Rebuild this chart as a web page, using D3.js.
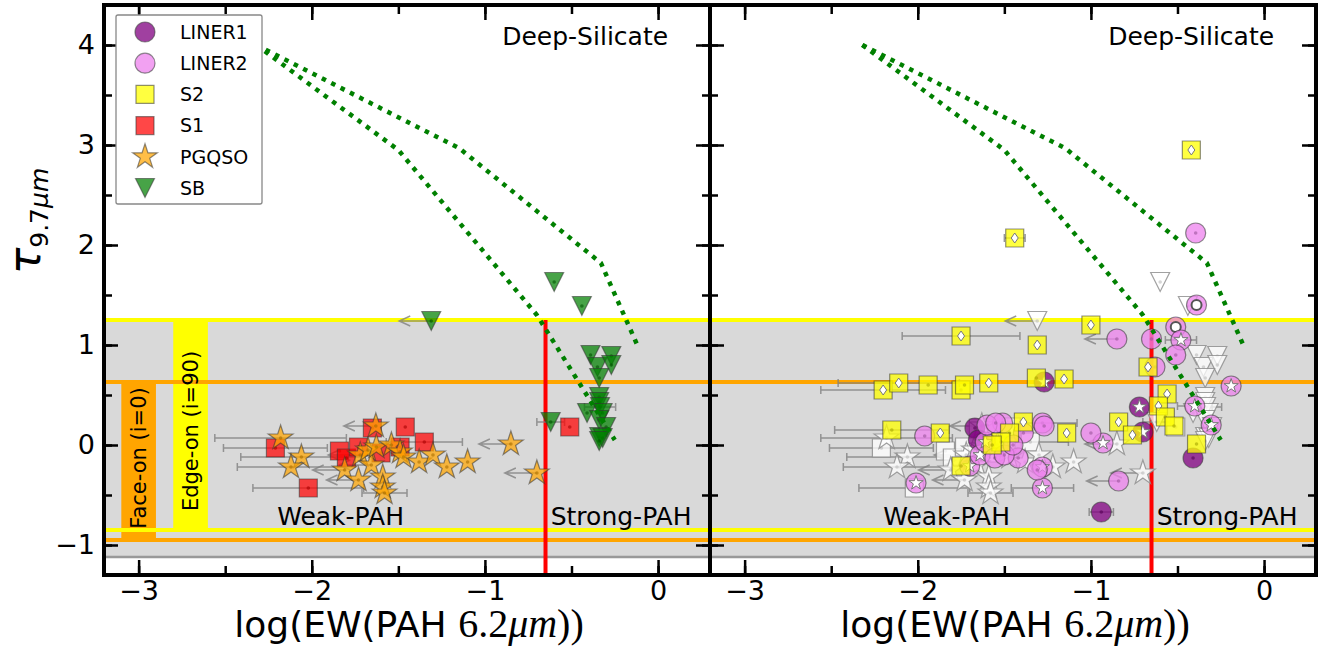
<!DOCTYPE html>
<html>
<head>
<meta charset="utf-8">
<script src="https://cdn.jsdelivr.net/npm/d3@7"></script>
<style>
body { margin: 0; background: #fff; }
text { font-family: "DejaVu Sans", sans-serif; }
</style>
</head>
<body>
<div class="chart"></div>
<script>
// points: [log EW(PAH 6.2um), tau 9.7um, x error, upper limit, inner marker]
const s1 = [
  [-2.21, -0.03, 0.30, 0], [-2.02, -0.43, 0.32, 0], [-1.84, -0.06, 0, 0], [-1.80, -0.13, 0, 0],
  [-1.73, -0.02, 0, 0], [-1.65, 0.17, 0, 0], [-1.60, -0.08, 0, 0], [-1.49, -0.02, 0, 0],
  [-1.46, 0.18, 0, 0], [-1.35, 0.03, 0.22, 0], [-0.51, 0.18, 0, 0]
];
const pgqso = [
  [-2.18, 0.07, 0.38, 0], [-2.06, -0.12, 0.35, 0], [-2.12, -0.22, 0.31, 0], [-1.81, -0.25, 0, 1],
  [-1.73, -0.35, 0, 1], [-1.72, -0.10, 0, 1], [-1.675, -0.05, 0, 0], [-1.656, -0.20, 0, 1],
  [-1.63, 0.19, 0, 1], [-1.627, -0.02, 0, 0], [-1.59, -0.32, 0, 0], [-1.59, -0.42, 0, 0],
  [-1.58, -0.48, 0.13, 0], [-1.54, 0.00, 0, 0], [-1.49, -0.07, 0, 0], [-1.47, -0.12, 0, 0],
  [-1.38, -0.17, 0, 0], [-1.30, -0.10, 0, 0], [-1.22, -0.22, 0, 0], [-1.10, -0.17, 0, 0],
  [-0.85, 0.01, 0, 1], [-0.70, -0.28, 0, 1]
];
const sb = [
  [-1.31, 1.24, 0, 1], [-0.60, 1.63, 0, 0], [-0.44, 1.39, 0, 0], [-0.62, 0.23, 0.08, 0],
  [-0.39, 0.90, 0, 0], [-0.27, 0.89, 0, 0], [-0.35, 0.78, 0, 0], [-0.27, 0.80, 0, 0],
  [-0.34, 0.67, 0, 0], [-0.34, 0.48, 0, 0], [-0.34, 0.43, 0, 0], [-0.335, 0.38, 0.09, 0],
  [-0.41, 0.32, 0, 0], [-0.32, 0.32, 0, 0], [-0.34, 0.25, 0, 0], [-0.30, 0.18, 0, 0],
  [-0.34, 0.08, 0, 0], [-0.32, 0.07, 0, 0], [-0.34, 0.04, 0, 0]
];
const liner1 = [
  [-1.27, 0.63, 0, 0, 's'], [-1.67, 0.17, 0, 0, ''], [-1.65, 0.05, 0, 0, ''], [-0.72, 0.38, 0, 0, 's'],
  [-0.70, 0.13, 0, 0, 's'], [-0.94, -0.67, 0.07, 0, ''], [-0.41, -0.13, 0, 0, '']
];
const liner2 = [
  [-0.395, 2.12, 0, 0, ''], [-0.39, 1.40, 0, 0, 'o'], [-0.51, 1.18, 0, 0, 'o'], [-0.48, 1.05, 0.09, 0, 's'],
  [-0.51, 0.90, 0, 0, ''], [-0.65, 1.06, 0, 0, ''], [-0.85, 1.06, 0, 1, ''], [-0.63, 0.78, 0, 0, ''],
  [-0.19, 0.59, 0, 0, 's'], [-0.40, 0.39, 0.10, 0, 's'], [-0.305, 0.20, 0, 0, 's'], [-0.93, 0.02, 0, 0, 's'],
  [-1.00, 0.12, 0, 0, ''], [-0.84, -0.36, 0, 1, ''], [-1.28, -0.22, 0, 0, 's'], [-1.28, -0.43, 0.18, 0, 's'],
  [-1.42, -0.13, 0, 0, ''], [-1.28, 0.22, 0.20, 0, ''], [-1.27, 0.19, 0, 0, ''], [-1.31, -0.25, 0, 0, ''],
  [-1.39, 0.12, 0, 0, ''], [-1.51, 0.22, 0, 0, ''], [-1.96, 0.09, 0, 0, ''], [-2.01, -0.38, 0, 0, 's'],
  [-1.70, -0.21, 0, 0, 's'], [-1.64, -0.10, 0, 0, 's'], [-1.61, 0.03, 0, 0, 's'], [-1.60, 0.20, 0, 0, ''],
  [-1.55, 0.22, 0, 0, ''], [-1.555, -0.13, 0, 0, ''], [-1.50, -0.10, 0, 0, ''], [-1.45, 0.00, 0, 0, '']
];
const s2 = [
  [-0.42, 2.95, 0, 0, 'd'], [-1.44, 2.07, 0.06, 0, 'd'], [-1.00, 1.20, 0, 0, 'd'], [-1.75, 1.09, 0.34, 0, 'd'],
  [-1.31, 1.00, 0, 0, 'd'], [-0.67, 0.78, 0, 0, 'd'], [-1.315, 0.67, 0, 0, ''], [-1.155, 0.66, 0, 0, 'd'],
  [-2.20, 0.55, 0.36, 0, 'd'], [-2.11, 0.62, 0.35, 0, 'd'], [-1.94, 0.60, 0, 0, ''], [-1.75, 0.55, 0, 0, ''],
  [-1.73, 0.60, 0, 0, ''], [-1.59, 0.62, 0, 0, 'd'], [-0.56, 0.51, 0, 0, 'd'], [-0.61, 0.39, 0, 0, 'd'],
  [-0.57, 0.28, 0, 0, ''], [-0.52, 0.19, 0, 0, ''], [-0.84, 0.23, 0, 0, 'd'], [-0.76, 0.10, 0, 0, 'd'],
  [-1.14, 0.12, 0, 0, 'd'], [-1.39, 0.23, 0, 0, 'd'], [-1.47, 0.12, 0, 0, ''], [-1.52, 0.03, 0, 0, ''],
  [-1.57, 0.00, 0, 0, ''], [-0.39, 0.01, 0, 0, ''], [-2.15, 0.15, 0.33, 0, ''], [-1.87, 0.12, 0, 0, 'd'],
  [-1.75, -0.21, 0, 0, '']
];
// model tracks (dotted green)
const trackA = [[-2.32, 4.0], [-1.5, 2.95], [-0.7, 1.3], [-0.25, 0.05]];
const trackB = [[-2.32, 4.0], [-1.15, 2.97], [-0.33, 1.82], [-0.12, 1.0]];
// reference levels
const levelTau = [1.25, 0.63, -0.85, -0.95];
const levelColor = ["#ffff00", "#ffa500", "#ffff00", "#ffa500"];
const grayBand = [-1.12, 1.25];
const faceOn = [-3.1, -2.9, -0.95, 0.63];
const edgeOn = [-2.8, -2.6, -0.85, 1.25];
const pahCut = -0.65;
const xDomain = [-3.2, 0.3];
const yDomain = [-1.3, 4.4];
const xTicks = [-3, -2, -1, 0];
const xMinor = [-3, -2.5, -2, -1.5, -1, -0.5, 0];
const yTicks = [-1, 0, 1, 2, 3, 4];
const yMinor = [-1, -0.5, 0, 0.5, 1, 1.5, 2, 2.5, 3, 3.5, 4];
const legendNames = ["LINER1", "LINER2", "S2", "S1", "PGQSO", "SB"];

var width = 1325, height = 650;
var plotTop = 5, plotBottom = 575;
var panels = [[104, 710], [710, 1316]];

const svg = d3.select(".chart").append("svg")
    .attr("width", width)
    .attr("height", height);

const yScale = d3.scaleLinear().domain(yDomain).range([plotBottom, plotTop]);

function starPath(R) {
  let pts = [];
  for (let i = 0; i < 10; i++) {
    const r = i % 2 ? R * 0.382 : R;
    const a = -Math.PI / 2 + i * Math.PI / 5;
    pts.push([r * Math.cos(a), r * Math.sin(a)]);
  }
  return "M" + pts.map(p => p[0].toFixed(2) + "," + p[1].toFixed(2)).join("L") + "Z";
}
const shapes = {
  circle: "M10,0A10,10 0 1,1 -10,0A10,10 0 1,1 10,0Z",
  square: "M-9,-9H9V9H-9Z",
  star: starPath(13),
  tri: "M-9.5,-9.5H9.5L0,9.5Z"
};
const inner = {
  s: starPath(7.5),
  d: "M0,-5L3.5,0L0,5L-3.5,0Z",
  o: "M5,0A5,5 0 1,1 -5,0A5,5 0 1,1 5,0Z"
};

const styles = {
  LINER1: {shape: "circle", fill: "purple", op: 0.75},
  LINER2: {shape: "circle", fill: "violet", op: 0.75},
  S2: {shape: "square", fill: "yellow", op: 0.75},
  S1: {shape: "square", fill: "red", op: 0.72},
  PGQSO: {shape: "star", fill: "orange", op: 0.72},
  SB: {shape: "tri", fill: "green", op: 0.72}
};

function drawErrors(g, data, xScale) {
  data.forEach(d => {
    const cx = xScale(d[0]), cy = yScale(d[1]);
    if (d[2] > 0) {
      const xa = xScale(d[0] - d[2]), xb = xScale(d[0] + d[2]);
      g.append("path")
        .attr("d", `M${xa},${cy}H${xb}M${xa},${cy - 4}V${cy + 4}M${xb},${cy - 4}V${cy + 4}`)
        .attr("stroke", "#808080").attr("stroke-width", 1.5).attr("fill", "none").attr("opacity", 0.8);
    }
    if (d[3]) {
      const tip = cx - 32;
      g.append("path")
        .attr("d", `M${cx},${cy}H${tip}M${tip + 11},${cy - 5}L${tip},${cy}L${tip + 11},${cy + 5}`)
        .attr("stroke", "#808080").attr("stroke-width", 1.5).attr("fill", "none").attr("opacity", 0.8);
    }
  });
}

function drawMarkers(g, data, name, xScale, white) {
  const st = styles[name];
  const grp = g.append("g");
  data.forEach(d => {
    const cx = xScale(d[0]), cy = yScale(d[1]);
    const m = grp.append("g").attr("transform", `translate(${cx},${cy})`);
    m.append("path").attr("d", shapes[st.shape])
      .attr("fill", white ? "white" : st.fill)
      .attr("fill-opacity", white ? 0.75 : st.op)
      .attr("stroke", white ? "#8a8a8a" : "#333")
      .attr("stroke-opacity", white ? 0.8 : 0.55)
      .attr("stroke-width", 1.2);
    m.append("circle").attr("r", 1.8)
      .attr("fill", white ? "#bbb" : d3.color(st.fill).darker(1.2))
      .attr("opacity", 0.6);
    if (d[4]) {
      m.append("path").attr("d", inner[d[4]])
        .attr("fill", "white")
        .attr("stroke", d[4] === "o" ? "#555" : "#777")
        .attr("stroke-width", d[4] === "o" ? 2 : 1);
    }
  });
}

panels.forEach((px, i) => {
  const xScale = d3.scaleLinear().domain(xDomain).range(px);
  const g = svg.append("g");
  const clipId = "clip" + i;
  svg.append("clipPath").attr("id", clipId).append("rect")
    .attr("x", px[0]).attr("y", plotTop).attr("width", px[1] - px[0]).attr("height", plotBottom - plotTop);
  const plot = g.append("g").attr("clip-path", `url(#${clipId})`);

  // gray band
  plot.append("rect")
    .attr("x", px[0]).attr("width", px[1] - px[0])
    .attr("y", yScale(grayBand[1])).attr("height", yScale(grayBand[0]) - yScale(grayBand[1]))
    .attr("fill", "#d9d9d9");
  plot.append("line")
    .attr("x1", px[0]).attr("x2", px[1])
    .attr("y1", yScale(grayBand[0])).attr("y2", yScale(grayBand[0]))
    .attr("stroke", "#999").attr("stroke-width", 2.5);

  if (i === 0) {
    [[faceOn, "#ffa500"], [edgeOn, "#ffff00"]].forEach(r => {
      const b = r[0];
      plot.append("rect")
        .attr("x", xScale(b[0])).attr("width", xScale(b[1]) - xScale(b[0]))
        .attr("y", yScale(b[3])).attr("height", yScale(b[2]) - yScale(b[3]))
        .attr("fill", r[1]);
    });
  }

  levelTau.forEach((t, k) => {
    plot.append("line")
      .attr("x1", px[0]).attr("x2", px[1])
      .attr("y1", yScale(t)).attr("y2", yScale(t))
      .attr("stroke", levelColor[k]).attr("stroke-width", 4);
  });

  if (i === 0) {
    plot.append("text")
      .attr("transform", `translate(${xScale((faceOn[0] + faceOn[1]) / 2)},458) rotate(-90)`)
      .attr("text-anchor", "middle").attr("dominant-baseline", "central")
      .attr("font-size", 21).text("Face-on (i=0)");
    plot.append("text")
      .attr("transform", `translate(${xScale((edgeOn[0] + edgeOn[1]) / 2)},431) rotate(-90)`)
      .attr("text-anchor", "middle").attr("dominant-baseline", "central")
      .attr("font-size", 21).text("Edge-on (i=90)");
  }

  // PAH cut
  plot.append("line")
    .attr("x1", xScale(pahCut)).attr("x2", xScale(pahCut))
    .attr("y1", yScale(levelTau[0])).attr("y2", plotBottom)
    .attr("stroke", "red").attr("stroke-width", 4);

  plot.append("text").attr("x", xScale(-0.9)).attr("y", yScale(4.0))
    .attr("font-size", 25).text("Deep-Silicate");
  plot.append("text").attr("x", xScale(-2.2)).attr("y", yScale(-0.8))
    .attr("font-size", 25).text("Weak-PAH");
  plot.append("text").attr("x", xScale(-0.62)).attr("y", yScale(-0.8))
    .attr("font-size", 25).text("Strong-PAH");

  if (i === 0) {
    drawErrors(plot, s1, xScale);
    drawErrors(plot, pgqso, xScale);
    drawErrors(plot, sb, xScale);
    drawMarkers(plot, s1, "S1", xScale, false);
    drawMarkers(plot, pgqso, "PGQSO", xScale, false);
    drawMarkers(plot, sb, "SB", xScale, false);
  } else {
    [s1, pgqso, sb, liner1, liner2, s2].forEach(d => drawErrors(plot, d, xScale));
    drawMarkers(plot, s1, "S1", xScale, true);
    drawMarkers(plot, pgqso, "PGQSO", xScale, true);
    drawMarkers(plot, sb, "SB", xScale, true);
    drawMarkers(plot, liner1, "LINER1", xScale, false);
    drawMarkers(plot, liner2, "LINER2", xScale, false);
    drawMarkers(plot, s2, "S2", xScale, false);
  }

  const line = d3.line().x(d => xScale(d[0])).y(d => yScale(d[1]));
  [trackA, trackB].forEach(t => {
    plot.append("path").attr("d", line(t))
      .attr("fill", "none").attr("stroke", "green")
      .attr("stroke-width", 4.5).attr("stroke-dasharray", "4.5,6");
  });

  // axes, inward ticks on all sides
  const axes = [
    [d3.axisBottom(xScale).tickValues(xTicks).tickSize(-15).tickPadding(6).tickFormat(d3.format("d")), `translate(0,${plotBottom})`],
    [d3.axisBottom(xScale).tickValues(xMinor).tickSize(-9).tickFormat(""), `translate(0,${plotBottom})`],
    [d3.axisTop(xScale).tickValues(xTicks).tickSize(-15).tickFormat(""), `translate(0,${plotTop})`],
    [d3.axisTop(xScale).tickValues(xMinor).tickSize(-9).tickFormat(""), `translate(0,${plotTop})`],
    [d3.axisLeft(yScale).tickValues(yTicks).tickSize(-14).tickPadding(9).tickFormat(i === 0 ? d3.format("d") : ""), `translate(${px[0]},0)`],
    [d3.axisLeft(yScale).tickValues(yMinor).tickSize(-8).tickFormat(""), `translate(${px[0]},0)`],
    [d3.axisRight(yScale).tickValues(yTicks).tickSize(-14).tickFormat(""), `translate(${px[1]},0)`],
    [d3.axisRight(yScale).tickValues(yMinor).tickSize(-8).tickFormat(""), `translate(${px[1]},0)`]
  ];
  axes.forEach(a => {
    const ax = g.append("g").attr("transform", a[1]).call(a[0]);
    ax.select(".domain").remove();
    ax.selectAll("line").attr("stroke", "black").attr("stroke-width", 2.5);
    ax.selectAll("text").attr("font-size", 27).attr("fill", "black")
      .attr("font-family", "DejaVu Sans");
  });

  g.append("rect")
    .attr("x", px[0]).attr("y", plotTop)
    .attr("width", px[1] - px[0]).attr("height", plotBottom - plotTop)
    .attr("fill", "none").attr("stroke", "black").attr("stroke-width", 4);

  // x label
  const xl = g.append("text").attr("x", (px[0] + px[1]) / 2 + 2).attr("y", 637)
    .attr("text-anchor", "middle").attr("font-size", 36);
  xl.append("tspan").text("log(EW(PAH ");
  xl.append("tspan").attr("font-family", "Liberation Serif").attr("font-size", 40).text("6.2");
  xl.append("tspan").attr("font-family", "Liberation Serif").attr("font-size", 40).attr("font-style", "italic").text("μm");
  xl.append("tspan").attr("font-family", "Liberation Serif").attr("font-size", 40).text("))");
});

// y label
const yl = svg.append("text")
    .attr("transform", "translate(40,221) rotate(-90)")
    .attr("text-anchor", "middle")
    .attr("font-family", "Liberation Serif");
yl.append("tspan").attr("font-size", 44).attr("font-style", "italic").text("τ");
yl.append("tspan").attr("font-size", 25).attr("dy", 8).text("9.7");
yl.append("tspan").attr("font-size", 25).attr("font-style", "italic").text("μm");

// legend
const leg = svg.append("g");
leg.append("rect")
    .attr("x", 116).attr("y", 15).attr("width", 146).attr("height", 189)
    .attr("rx", 2).attr("fill", "white").attr("stroke", "#888").attr("stroke-width", 1.3);
legendNames.forEach((n, k) => {
  const st = styles[n];
  const ly = 32 + k * 31.2;
  leg.append("path").attr("d", shapes[st.shape])
    .attr("transform", `translate(145,${ly})`)
    .attr("fill", st.fill).attr("fill-opacity", st.op)
    .attr("stroke", "#333").attr("stroke-opacity", 0.55).attr("stroke-width", 1.2);
  leg.append("text").attr("x", 180).attr("y", ly).attr("dy", "0.36em")
    .attr("font-size", 19).text(n);
});
</script>
</body>
</html>
